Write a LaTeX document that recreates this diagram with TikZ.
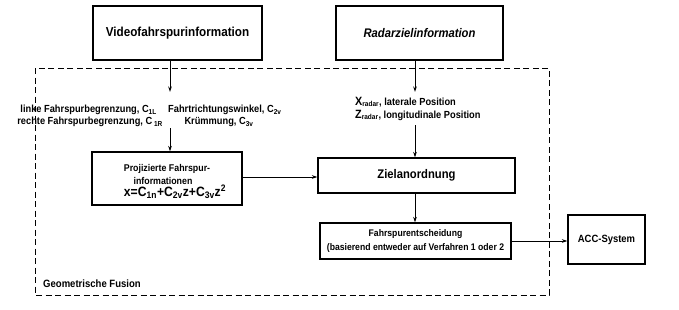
\documentclass[tikz,border=0pt]{standalone}
\usepackage{fontspec}
\setmainfont{Liberation Sans}[FakeStretch=0.9]
\usetikzlibrary{arrows.meta}
\begin{document}
\begin{tikzpicture}[x=1pt,y=-1pt,
  font=\bfseries\fontsize{10.3}{12}\selectfont,
  boxx/.style={draw,line width=1.1pt,inner sep=0pt},
  conn/.style={line width=0.9pt,-{Stealth[length=5.5pt,width=3.5pt]}},
  lbl/.style={inner sep=0pt,align=left}]
\useasboundingbox (0,0) rectangle (679,309);
% dashed fusion frame
\draw[line width=0.9pt,dash pattern=on 6pt off 3.5pt] (35,68) rectangle (549,295);
\node[lbl,anchor=west,font=\bfseries\fontsize{10.6}{12}\selectfont] (geo) at (43,284) {Geometrische Fusion};
% top boxes
\node[boxx,minimum width=169pt,minimum height=54pt,font=\bfseries\fontsize{13}{15}\selectfont] (video) at (177.5,33) {Videofahrspurinformation};
\node[boxx,minimum width=167pt,minimum height=54pt,font=\bfseries\itshape\fontsize{12.5}{15}\selectfont] (radar) at (419.5,33) {Radarzielinformation};
% video labels
\coordinate (va) at (170,92);
\draw[conn] (video.south -| va) -- (va);
\node[lbl,anchor=east] (l1) at (157,110) {linke Fahrspurbegrenzung, C\textsubscript{1L}};
\node[lbl,anchor=east] (l2) at (163,122) {rechte Fahrspurbegrenzung, C\,\textsubscript{1R}};
\node[lbl,anchor=west] (r1) at (168,110) {Fahrtrichtungswinkel, C\textsubscript{2v}};
\node[lbl,anchor=center] (r2) at (219,122) {Krümmung, C\textsubscript{3v}};
\coordinate (vb) at (170,128);
% projected box
\node[boxx,minimum width=150pt,minimum height=53pt] (proj) at (167,178.5) {};
\node[lbl,align=center,font=\bfseries\fontsize{9.8}{12}\selectfont] (p1) at (167,169) {Projizierte Fahrspur-};
\node[lbl,align=center,font=\bfseries\fontsize{9.8}{12}\selectfont] (p2) at (163,180.5) {informationen};
\node[lbl,font=\bfseries\fontsize{13.5}{16}\selectfont] (p3) at (175,192) {x=C\textsubscript{1n}+C\textsubscript{2v}z+C\textsubscript{3v}z\textsuperscript{2}};
\draw[conn] (vb) -- (vb |- proj.north);
% radar labels
\coordinate (ra) at (415,92);
\draw[conn] (radar.south -| ra) -- (ra);
\node[lbl,anchor=west] (x1) at (355,102) {{\fontsize{12}{12}\selectfont X}\textsubscript{radar}, laterale Position};
\node[lbl,anchor=west] (z1) at (355,115) {{\fontsize{12}{12}\selectfont Z}\textsubscript{radar}, longitudinale Position};
\coordinate (rb) at (415,125);
% Ziel
\node[boxx,minimum width=197pt,minimum height=35pt,font=\bfseries\fontsize{12.5}{15}\selectfont] (ziel) at (416.5,175.5) {Zielanordnung};
\draw[conn] (rb) -- (rb |- ziel.north);
\draw[conn] (proj.east |- 0,177) -- (ziel.west |- 0,177);
% Fahrspurentscheidung
\node[boxx,minimum width=191pt,minimum height=36pt,align=center,font=\bfseries\fontsize{9.6}{14}\selectfont] (fe) at (415.5,241) {Fahrspurentscheidung\\(basierend entweder auf Verfahren 1 oder 2};
\draw[conn] (ziel.south -| rb) -- (fe.north -| rb);
% ACC
\node[boxx,minimum width=77pt,minimum height=49pt,font=\bfseries\fontsize{10.5}{12}\selectfont] (acc) at (606.5,239.5) {ACC-System};
\draw[conn] (fe.east |- 0,241) -- (acc.west |- 0,241);
\end{tikzpicture}
\end{document}
